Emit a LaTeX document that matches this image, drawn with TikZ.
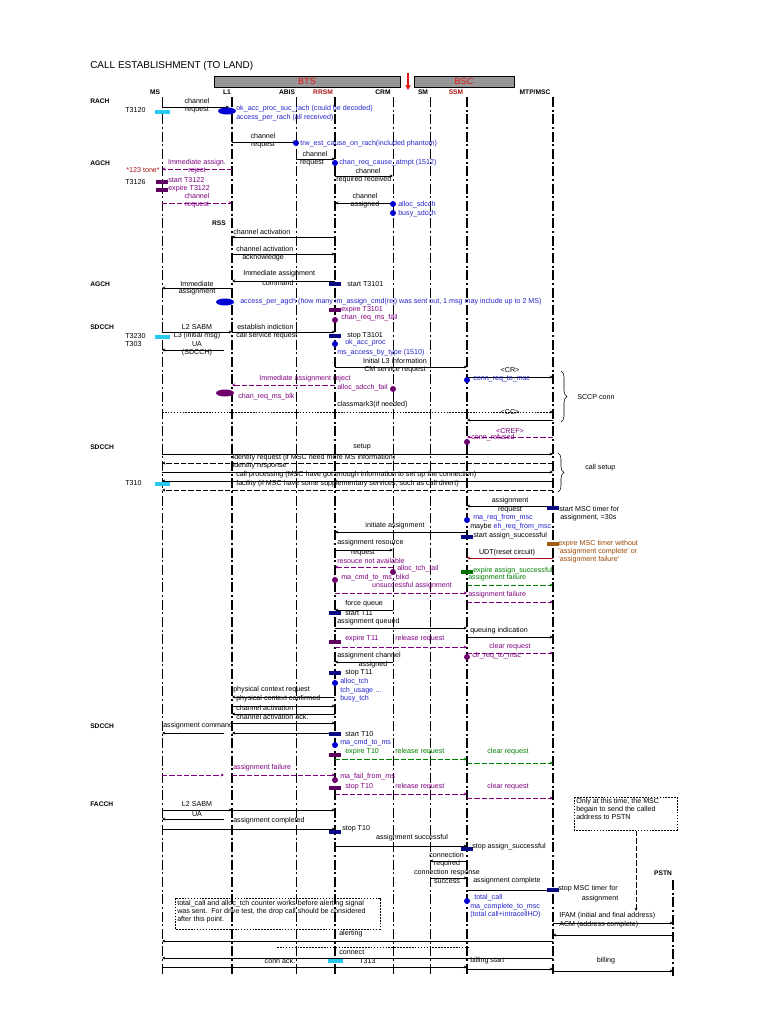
\documentclass[tikz,border=0pt]{standalone}
\usepackage{fontspec}
\setmainfont{Liberation Sans}
\usetikzlibrary{arrows.meta,decorations.pathreplacing}
\definecolor{tblue}{RGB}{35,35,205}
\definecolor{tpurple}{RGB}{128,0,128}
\definecolor{tgreen}{RGB}{0,128,0}
\definecolor{tbrown}{RGB}{150,70,0}
\definecolor{tdred}{RGB}{170,20,20}
\definecolor{bblue}{RGB}{10,10,130}
\definecolor{bpurple}{RGB}{95,0,95}
\definecolor{bbrown}{RGB}{160,90,20}
\definecolor{bgreen}{RGB}{0,110,0}
\definecolor{bcyan}{RGB}{40,200,240}
\definecolor{dblue}{RGB}{0,0,210}
\definecolor{dpurple}{RGB}{110,0,110}
\definecolor{hdrgray}{RGB}{150,150,150}
\definecolor{hdrred}{RGB}{225,20,20}
\newcommand\Msg[4][]{\draw[msg,#1] (#2,#4) -- (#3,#4);}
\newcommand\Lw[4][]{\node[lbl,anchor=west,#1] at (#2,#3) {#4};}
\newcommand\Lc[4][]{\node[lbl,#1] at (#2,#3) {#4};}
\newcommand\Bar[3]{\fill[#1] (#2-6,#3-2) rectangle (#2+6,#3+2);}
\newcommand\Cyan[2]{\fill[bcyan] (#1-7,#2-2) rectangle (#1+8,#2+2);}
\newcommand\Dot[3]{\fill[#1] (#2,#3) circle[radius=3];}
\newcommand\Ell[3]{\fill[#1] (#2,#3) ellipse[x radius=9,y radius=3.5];}
\def\xMS{162}\def\xLI{232}\def\xAB{296}\def\xRR{335}\def\xCR{393}\def\xSM{430}\def\xSS{467}\def\xMSC{553}\def\xPS{673}
\begin{document}
\begin{tikzpicture}[x=0.75pt,y=-0.75pt,
  lbl/.style={font=\fontsize{5.35}{6}\selectfont,inner sep=0pt},
  hdr/.style={font=\fontsize{5}{6}\selectfont\bfseries,inner sep=0pt},
  msg/.style={line width=0.45pt,-{Stealth[length=2.4pt,width=2.2pt]}},
  dsh/.style={dash pattern=on 4pt off 1.5pt},
  dtt/.style={dash pattern=on 1.2pt off 1pt},
  life/.style={dash pattern=on 7.5pt off 2pt on 1.5pt off 2pt},
  pu/.style={tpurple,dsh},
  gr/.style={tgreen,dsh},
  brc/.style={decorate,decoration={brace,amplitude=4.5pt},line width=0.4pt}]
\useasboundingbox (0,0) rectangle (768,1024);
\fill[white] (0,0) rectangle (768,1024);
% header
\node[anchor=west,font=\fontsize{7.5}{8}\selectfont,inner sep=0pt] (title) at (90,66) {CALL ESTABLISHMENT (TO LAND)};
\draw[fill=hdrgray,line width=0.4pt] (214,76) rectangle (400,87);
\node[font=\fontsize{6.8}{7}\selectfont,text=hdrred,inner sep=0pt] (bts) at (307,81.5) {BTS};
\draw[fill=hdrgray,line width=0.4pt] (414,76) rectangle (514,87);
\node[font=\fontsize{6.8}{7}\selectfont,text=hdrred,inner sep=0pt] (bsc) at (464,81.5) {BSC};
\draw[hdrred,line width=1.3pt,-{Stealth[length=4pt,width=4.5pt]}] (408,73) -- (408,90);
\node[hdr] (hMS) at (155,92.5) {MS};
\node[hdr] (hLI) at (227,92.5) {L1};
\node[hdr] (hAB) at (287,92.5) {ABIS};
\node[hdr,text=tdred] (hRR) at (323,92.5) {RRSM};
\node[hdr] (hCR) at (383,92.5) {CRM};
\node[hdr] (hSM) at (423,92.5) {SM};
\node[hdr,text=tdred] (hSS) at (456,92.5) {SSM};
\node[hdr] (hMSC) at (535,92.5) {MTP/MSC};
% lifelines
\foreach \x/\w in {162/0.45,232/0.9,296/0.5,335/0.9,393/0.7,430/0.7,467/0.9,553/0.9}
  \draw[life,line width=\w pt] (\x,97) -- (\x,976);
\draw[life,line width=1.1pt] (\xPS,880) -- (\xPS,976);
\node[hdr] (hPS) at (663,873) {PSTN};
% channel labels
\foreach \yy/\tt in {101/RACH,163/AGCH,284/AGCH,327/SDCCH,447/SDCCH,726/SDCCH,804/FACCH}
  \node[hdr,anchor=west] at (90,\yy) {\tt};
% RACH
\Lw{125}{110}{T3120}\Cyan{\xMS}{112}
\Msg{\xMS}{229}{107}\Lc{197}{101}{channel}\Lc{197}{110}{request}
\Ell{dblue}{227}{111}
\Lw[text=tblue]{236}{109}{ok\_acc\_proc\_suc\_rach (could be decoded)}
\Lw[text=tblue]{236}{118}{access\_per\_rach (all received)}
\Msg{\xLI}{\xAB}{142}\Lc{263}{136}{channel}\Lc{263}{145}{request}
\Dot{dblue}{\xAB}{143}\Lw[text=tblue]{300}{144}{trw\_est\_cause\_on\_rach(included phantom)}
\Msg{\xAB}{\xRR}{159}\Lc{315}{154}{channel}\Lc{312}{163}{request}
\Dot{dblue}{\xRR}{163}\Lw[text=tblue]{339}{163}{chan\_req\_cause\_atmpt (1512)}
% AGCH reject
\Msg[pu]{\xLI}{\xMS}{169}\Lc[text=tpurple]{197}{163}{Immediate assign.}\Lc[text=tpurple]{197}{171}{reject}
\node[lbl,anchor=east,text=tdred] at (160,170) {*123 tone*};
\Lw{125}{182}{T3126}
\Bar{bpurple}{\xMS}{182}\Bar{bpurple}{\xMS}{190}
\Lw[text=tpurple]{168}{180}{start T3122}\Lw[text=tpurple]{168}{189}{expire T3122}
\Msg[pu]{\xMS}{\xLI}{203}\Lc[text=tpurple]{197}{196}{channel}\Lc[text=tpurple]{197}{205}{request}
\Msg{\xRR}{\xCR}{176}\Lc{368}{171}{channel}\Lw{336}{180}{required received}
\Msg{\xCR}{\xRR}{203}\Lc{365}{196}{channel}\Lc{365}{205}{assigned}
\Dot{dblue}{\xCR}{204}\Lw[text=tblue]{398}{205}{alloc\_sdcch}
\Dot{dblue}{\xCR}{213}\Lw[text=tblue]{398}{214}{busy\_sdcch}
% RSS
\node[hdr] at (219,223) {RSS};
\Msg{\xRR}{\xLI}{237}\Lw{233}{232}{channel activation}
\Msg{\xLI}{\xRR}{254}\Lw{236}{249}{channel activation}\Lw{242}{258}{acknowledge}
\Msg{\xRR}{\xLI}{281}\Lw{243}{274}{Immediate assignment}\Lc{278}{283}{command}
\Bar{bblue}{\xRR}{284}\Lw{347}{284}{start T3101}
\Msg{\xLI}{\xMS}{288}\Lc{197}{284}{Immediate}\Lc{197}{292}{assignment}
\Ell{dblue}{225}{302}
\Lw[text=tblue]{240}{302}{access\_per\_agch (how many im\_assign\_cmd(rej) was sent out, 1 msg may include up to 2 MS)}
\Bar{bpurple}{\xRR}{310}\Lw[text=tpurple]{341}{310}{expire T3101}
\Dot{dpurple}{\xRR}{320}\Lw[text=tpurple]{341}{318}{chan\_req\_ms\_fail}
% SDCCH
\Lc{197}{327}{L2 SABM}\Msg{\xMS}{\xLI}{332}\Lc{197}{336}{L3 (initial msg)}
\Cyan{\xMS}{337}\Lw{125}{336}{T3230}\Lw{125}{344}{T303}
\Lc{197}{344}{UA}\Msg{224}{\xMS}{350}\Lc{197}{353}{(SDCCH)}
\Lw{237}{327}{establish indiction}\Msg{\xLI}{\xRR}{332}\Lw{236}{336}{call service request}
\Bar{bblue}{\xRR}{336}\Lw{347}{336}{stop T3101}
\Dot{dblue}{\xRR}{344}\Lw[text=tblue]{345}{343}{ok\_acc\_proc}
\Lw[text=tblue]{337}{353}{ms\_access\_by\_type (1510)}
\Lc{395}{361}{Initial L3 information}\Msg{\xRR}{\xSS}{367}\Lc{395}{370}{CM service request}
\Lc{510}{370}{<CR>}\Msg{\xSS}{\xMSC}{377}
\Dot{dblue}{\xSS}{380}\Lw[text=tblue]{473}{379}{conn\_req\_to\_msc}
\Msg[pu]{\xRR}{\xLI}{385}\Lc[text=tpurple]{305}{379}{Immediate assignment reject}
\Lw[text=tpurple]{337}{388}{alloc\_sdcch\_fail}\Dot{dpurple}{\xCR}{389}
\Ell{dpurple}{225}{393}\Lw[text=tpurple]{238}{397}{chan\_req\_ms\_blk}
\Lw{337}{405}{classmark3(if needed)}
\draw[msg,dtt] (\xMS,412) -- (\xMSC,412);
\Lc{510}{412}{<CC>}\Msg{\xMSC}{\xSS}{420}
\draw[brc] (561,371) -- (561,422);\Lw{577}{397}{SCCP conn}
\Lc[text=tpurple]{510}{431}{<CREF>}\Msg[pu]{\xMSC}{\xSS}{437}
\Dot{dpurple}{\xSS}{442}\Lw[text=tpurple]{471}{438}{conn\_refused}
% setup
\Lc{362}{447}{setup}\Msg{\xMS}{\xMSC}{454}
\Lw{232}{457.5}{Identity request (if MSC need more MS information)}\Msg[dsh]{\xMSC}{\xMS}{463}
\Lw{232}{466}{Identity response}\Msg{\xMS}{\xMSC}{472}
\Lw{236}{475}{call processing (MSC have got enough information to set up the connection)}\Msg{\xMSC}{\xMS}{481}
\Lw{236}{484}{facility (if MSC have some supplementary services, such as call divert)}\Msg[dsh]{\xMSC}{\xMS}{490}
\Cyan{\xMS}{484}\Lw{125}{483}{T310}
\draw[brc] (558,453) -- (558,492);\Lw{585}{468}{call setup}
% assignment
\Lc{510}{501}{assignment}\Msg{\xMSC}{\xSS}{506}\Lc{510}{510}{request}
\Bar{bblue}{\xMSC}{508}\Lw{559}{509}{start MSC timer for}\Lw{560}{518}{assignment, =30s}
\Dot{dblue}{\xSS}{520}\Lw[text=tblue]{473}{518}{ma\_req\_from\_msc}
\Lw{470}{527}{maybe \textcolor{tblue}{eh\_req\_from\_msc}}
\Lc{395}{526}{initiate assignment}\Msg{\xSS}{\xRR}{532}
\Bar{bblue}{\xSS}{537}\Lw{473}{536}{start assign\_successful}
\Lw{337}{543}{assignment resource}\Msg{\xRR}{\xCR}{550}\Lc{363}{553}{request}
\Lw[text=tpurple]{337}{561}{resouce not available}\Msg[pu]{\xCR}{\xRR}{567}
\Dot{dpurple}{\xCR}{572}\Lw[text=tpurple]{397}{569}{alloc\_tch\_fail}
\Dot{dpurple}{\xRR}{580}\Lw[text=tpurple]{341}{578}{ma\_cmd\_to\_ms\_blkd}
\Bar{bbrown}{\xMSC}{544}
\node[lbl,anchor=north west,align=left,text=tbrown] at (558,540) {expire MSC timer without\\`assignment complete' or\\`assignment failure'};
\Lc{507}{553}{UDT(reset circuit)}\Msg[tdred]{\xMSC}{\xSS}{558}
\Bar{bgreen}{\xSS}{572}\Lw[text=tgreen]{473}{571}{expire assign\_successful}
\Lw[text=tgreen]{468}{578}{assignment failure}\Msg[gr]{\xSS}{\xMSC}{585}
\Lc[text=tpurple]{412}{586}{unsuccessful assignment}\Msg[pu]{\xRR}{\xSS}{593}
\Lw[text=tpurple]{468}{595}{assignment failure}\Msg[pu]{\xSS}{\xMSC}{602}
\Lw{345}{604}{force queue}\Msg{\xCR}{\xRR}{610}
\Bar{bblue}{\xRR}{613}\Lw{345}{613}{start T11}
\Lw{337}{622}{assignment queued}\Msg{\xRR}{\xSS}{628}
\Lw{470}{631}{queuing indication}\Msg{\xSS}{\xMSC}{637}
\Bar{bpurple}{\xRR}{642}\Lw[text=tpurple]{345}{639}{expire T11}\Lw[text=tpurple]{395}{639}{release request}
\Msg[pu]{\xRR}{\xSS}{647}
\Lc[text=tpurple]{510}{647}{clear request}\Msg[pu]{\xSS}{\xMSC}{653}
\Dot{dpurple}{\xSS}{657}\Lw[text=tpurple]{472}{656}{clr\_req\_to\_msc}
\Lw{337}{656}{assignment channel}\Msg{\xCR}{\xRR}{662}\Lc{373}{665}{assigned}
\Bar{bblue}{\xRR}{673}\Lw{345}{673}{stop T11}
\Dot{dblue}{\xRR}{683}\Lw[text=tblue]{340}{682}{alloc\_tch}\Lw[text=tblue]{340}{691}{tch\_usage \dots}\Lw[text=tblue]{340}{699}{busy\_tch}
\Lw{233}{690}{physical context request}\Msg{\xRR}{\xLI}{697}
\Lw{236}{699}{physical context confirmed}\Msg{\xLI}{\xRR}{706}
\Lw{236}{708}{channel activation}\Msg{\xRR}{\xLI}{714}
\Lw{236}{717}{channel activation ack.}\Msg{\xLI}{\xRR}{723}
\Lw{163}{726}{assignment command}\Msg{\xRR}{\xLI}{733}\Msg{224}{\xMS}{733}
\Bar{bblue}{\xRR}{734}\Lw{345}{734}{start T10}
\Dot{dblue}{\xRR}{745}\Lw[text=tblue]{340}{743}{ma\_cmd\_to\_ms}
\Bar{bpurple}{\xRR}{755}\Lw[text=tgreen]{345}{752}{expire T10}\Lw[text=tgreen]{395}{752}{release request}
\Lc[text=tgreen]{508}{752}{clear request}
\Msg[gr]{\xRR}{\xSS}{759}\Msg[gr]{\xSS}{\xMSC}{763}
\Lw[text=tpurple]{233}{768}{assignment failure}\Msg[pu]{\xMS}{224}{775}\Msg[pu]{\xLI}{\xRR}{775}
\Dot{dpurple}{\xRR}{780}\Lw[text=tpurple]{340}{777}{ma\_fail\_from\_ms}
\Bar{bpurple}{\xRR}{788}\Lw[text=tpurple]{345}{787}{stop T10}\Lw[text=tpurple]{395}{787}{release request}
\Lc[text=tpurple]{508}{787}{clear request}
\Msg[pu]{\xRR}{\xSS}{794}\Msg[pu]{\xSS}{\xMSC}{798}
% FACCH
\Lc{197}{804}{L2 SABM}\Msg{\xMS}{\xLI}{810}\Msg{\xLI}{\xRR}{810}
\Lc{197}{814}{UA}\Msg{224}{\xMS}{819}
\Lw{233}{821}{assignment completed}\Msg{\xMS}{\xRR}{829}
\Bar{bblue}{\xRR}{832}\Lw{342}{829}{stop T10}
\Lc{412}{838}{assignment successful}\Msg{\xRR}{\xSS}{846}
\Bar{bblue}{\xSS}{849}\Lw{472}{847}{stop assign\_successful}
\Lw{429}{855}{connection}\Msg{\xSS}{\xSM}{861}\Lc{447}{864}{required}
\Lc{447}{873}{connection response}\Msg{\xSM}{\xSS}{878}\Lc{447}{881.5}{success}
\Lw{473}{881}{assignment complete}\Msg{\xSS}{\xMSC}{890}
\Bar{bblue}{\xMSC}{890}\Lw{558}{889}{stop MSC timer for}\Lc{600}{899}{assignment}
% note boxes
\draw[dtt,line width=0.4pt] (574,797) rectangle (677,830);
\node[lbl,anchor=north west,align=left] (n1) at (576,798.5) {Only at this time, the MSC\\begain to send the called\\address to PSTN};
\coordinate (n1b) at (636,831);
\coordinate (n1e) at (636,911);
\draw[msg,dsh] (n1b) -- (n1e);
\draw[dtt,line width=0.4pt] (175,898) rectangle (380,929);
\node[lbl,anchor=north west,align=left] (n2) at (177,900) {total\_call and alloc\_tch counter works before alerting signal\\was sent.\ \ For drive test, the drop call should be considered\\after this point.};
\Dot{dblue}{\xSS}{901}\Lw[text=tblue]{474}{898}{total\_call}
\Lw[text=tblue]{470}{907}{ma\_complete\_to\_msc}\Lw[text=tblue]{470}{915}{(total call+intracellHO)}
\Lw{559}{916}{IFAM (initial and final address)}\Msg{\xMSC}{\xPS}{923}
\Lw{559}{925}{ACM (address complete)}\Msg{\xPS}{\xMSC}{935}
\Lw{339}{933.5}{alerting}\Msg{\xMSC}{\xMS}{941}
\draw[dtt,line width=0.45pt] (277,947) -- (470,947);
\Lw{339}{952}{connect}\Msg{\xMSC}{\xMS}{958}
\Lc{280}{961}{conn ack.}\fill[bcyan] (328,959) rectangle (343,963);\Lw{359}{961}{T313}
\Msg{\xMS}{\xSS}{967}\Lw{470}{961}{billing start}\Msg{\xSS}{\xMSC}{969}
\Lc{606}{961}{billing}\Msg{\xMSC}{\xPS}{971}
\end{tikzpicture}
\end{document}
